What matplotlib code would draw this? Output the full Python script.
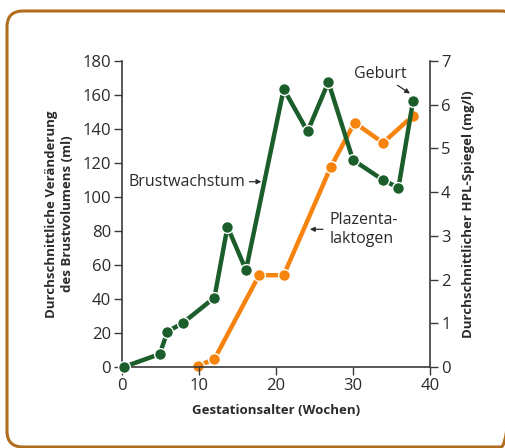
import matplotlib
matplotlib.use("Agg")
import matplotlib.pyplot as plt
from matplotlib.patches import FancyBboxPatch

plt.rcParams['font.family'] = ['Open Sans', 'DejaVu Sans']

# Brustwachstum (linke Achse, ml)
brust_wochen = [0.2, 4.9, 5.9, 7.9, 12.0, 13.7, 16.1, 21.0, 24.1, 26.8, 30.0, 33.9, 35.9, 37.8]
brust_ml = [0, 7.6, 20.8, 25.9, 40.8, 82.5, 57, 163.5, 138.6, 167.6, 121.8, 110, 105.5, 156.5]

# Plazentalaktogen (rechte Achse, mg/l)
hpl_wochen = [9.9, 12.0, 17.8, 21.0, 27.1, 30.2, 33.9, 37.8]
hpl_mgl = [0.03, 0.18, 2.1, 2.1, 4.57, 5.59, 5.13, 5.75]

green = '#1b5e2b'
orange = '#f7830f'
bg = '#ebd1b6'
txt = '#2b2b2b'

fig = plt.figure(figsize=(5.05, 4.48), dpi=100)

# rahmen in pixel-koordinaten
frame = fig.add_axes([0, 0, 1, 1])
frame.set_xlim(0, 505)
frame.set_ylim(448, 0)
frame.axis('off')
frame.add_patch(FancyBboxPatch((7, 11), 510, 436,
                               boxstyle='round,pad=0,rounding_size=16',
                               fill=False, edgecolor='#b06d1e', lw=2.2, clip_on=False))

ax1 = fig.add_axes([0.2416, 0.1808, 0.6099, 0.6830])
ax2 = ax1.twinx()

ax1.set_xlim(0, 40)
ax1.set_ylim(0, 180)
ax1.set_xticks([0, 10, 20, 30, 40])
ax1.set_yticks(range(0, 181, 20))
ax2.set_ylim(0, 7)
ax2.set_yticks(range(0, 8))

ax2.set_facecolor(bg)
for xv in [10, 20, 30]:
    ax2.axvline(xv, color='white', lw=1.0, zorder=1)
ax2.plot(hpl_wochen, hpl_mgl, color=orange, lw=3.2, marker='o', ms=8.5,
         mfc=orange, mec='white', mew=1, zorder=3, clip_on=False)

ax1.set_zorder(ax2.get_zorder() + 1)
ax1.patch.set_visible(False)
ax1.plot(brust_wochen, brust_ml, color=green, lw=3.2, marker='o', ms=8.5,
         mfc=green, mec='white', mew=1, zorder=4, clip_on=False)

for a in (ax1, ax2):
    a.spines['top'].set_visible(False)
    for s in ['left', 'right', 'bottom']:
        a.spines[s].set_color('#3a3a3a')
        a.spines[s].set_linewidth(1.2)
    a.tick_params(direction='out', length=6, width=1, colors='#3a3a3a',
                  labelsize=12, labelcolor=txt, pad=2)
ax1.spines['right'].set_visible(False)
ax2.spines['left'].set_visible(False)
ax2.spines['bottom'].set_visible(False)

ax1.set_xlabel('Gestationsalter (Wochen)', fontsize=9.5, fontweight='bold', color=txt, labelpad=7)
ax1.set_ylabel('Durchschnittliche Veränderung\ndes Brustvolumens (ml)', fontsize=9.5,
               fontweight='bold', color=txt, labelpad=6, linespacing=1.3)
ax2.set_ylabel('Durchschnittlicher HPL-Spiegel (mg/l)', fontsize=9.5,
               fontweight='bold', color=txt, labelpad=8)

ax1.annotate('Geburt', xy=(37.7, 160), xytext=(33.5, 172.5), fontsize=11.5, color=txt,
             ha='center', va='center',
             arrowprops=dict(arrowstyle='-|>', color=txt, lw=0.9, mutation_scale=7,
                             shrinkA=1, shrinkB=2))
ax1.annotate('Brustwachstum', xy=(18.1, 109), xytext=(16.0, 109), fontsize=11.5, color=txt,
             ha='right', va='center',
             arrowprops=dict(arrowstyle='-|>', color=txt, lw=0.9, mutation_scale=7,
                             shrinkA=1, shrinkB=0))
ax1.annotate('Plazenta-\nlaktogen', xy=(24.4, 81), xytext=(27.0, 81), fontsize=11.5, color=txt,
             ha='left', va='center', linespacing=1.2,
             arrowprops=dict(arrowstyle='-|>', color=txt, lw=0.9, mutation_scale=7,
                             shrinkA=3, shrinkB=0))

fig.savefig('out.png', dpi=100)
